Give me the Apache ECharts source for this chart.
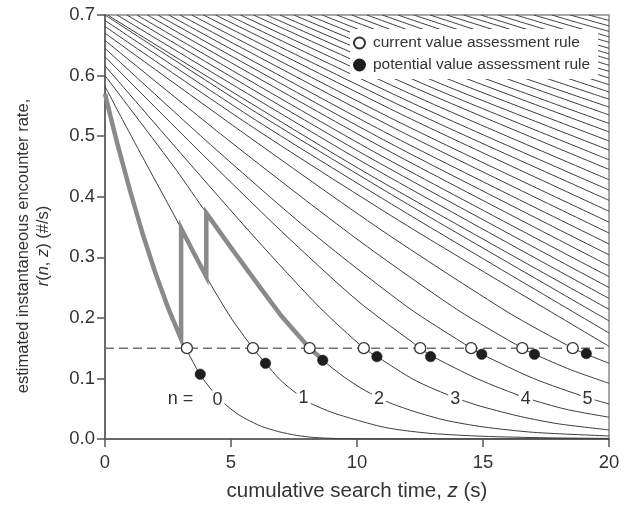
<!DOCTYPE html>
<html><head><meta charset="utf-8">
<script src="https://cdn.jsdelivr.net/npm/echarts@6/dist/echarts.min.js"></script>
<style>html,body{margin:0;padding:0;background:#fff}#c{width:626px;height:508px}</style>
</head><body><div id="c"></div>
<script>
// ---- thin curves r(n,z) that start at the left edge (n = 0 .. 10), [z, r]
const curveN0 = [[0,0.57],[0.5,0.486],[1,0.409],[1.5,0.338],[2,0.274],[2.5,0.217],[3.02,0.165],[3.2,0.15],[3.78,0.106],[4.25,0.08],[4.7,0.06],[5.2,0.043],[5.6,0.033],[6.2,0.021],[6.9,0.012],[7.6,0.006],[8.3,0.0025],[9.2,0.0008],[10.5,0.0002],[20,0]];
const curveN1 = [[0,0.582],[0.85,0.515],[1.77,0.444],[3.02,0.348],[4.02,0.268],[5.0,0.2],[5.87,0.15],[6.37,0.125],[6.92,0.099],[7.45,0.08],[7.88,0.067],[8.2,0.058],[9.0,0.044],[9.6,0.036],[10.9,0.021],[11.7,0.015],[13,0.009],[15,0.0045],[17.5,0.002],[20,0.001]];
const curveN2 = [[0,0.6],[2.83,0.444],[4.02,0.373],[5,0.316],[6,0.259],[7,0.203],[8.12,0.15],[8.64,0.13],[9.5,0.102],[10.2,0.083],[10.87,0.068],[11.4,0.058],[12.3,0.045],[13.5,0.031],[15,0.02],[17,0.011],[20,0.005]];
const curveN3 = [[0,0.616],[3,0.472],[6,0.33],[8.5,0.218],[10.27,0.15],[10.79,0.136],[12.3,0.097],[13.9,0.068],[15,0.053],[16.5,0.037],[18,0.025],[20,0.015]];
const curveN4 = [[0,0.631],[3.5,0.485],[7,0.343],[10,0.229],[12.51,0.15],[12.92,0.138],[14.8,0.099],[16.7,0.068],[18.3,0.049],[20,0.036]];
const curveN5 = [[0,0.645],[4,0.493],[8,0.348],[12,0.218],[14.53,0.15],[14.95,0.14],[17,0.1],[19.15,0.068],[20,0.058]];
const curveN6 = [[0,0.658],[5,0.49],[10,0.33],[14,0.213],[16.56,0.15],[17.04,0.14],[18.5,0.114],[20,0.092]];
const curveN7 = [[0,0.67],[5.5,0.505],[11,0.344],[16,0.209],[18.56,0.15],[19.1,0.14],[20,0.125]];
const curveN8 = [[0,0.681],[6,0.511],[12,0.352],[20,0.153]];
const curveN9 = [[0,0.691],[6,0.526],[12,0.372],[20,0.175]];
const curveN10 = [[0,0.70],[6,0.539],[12,0.388],[20,0.195]];
const leftCurves = [curveN0,curveN1,curveN2,curveN3,curveN4,curveN5,curveN6,curveN7,curveN8,curveN9,curveN10];

// ---- thin curves entering through the top edge (n = 11 ..): top crossing z, a middle point, value at z = 20
const upperTopZ = [0.1,0.48,0.87,1.27,1.68,2.10,2.53,2.98,3.44,3.91,4.39,4.88,5.38,5.89,6.41,6.94,7.49,8.05,8.62,9.20,9.79,10.39,11.0,11.62,12.25,12.9,13.56,14.23,14.91,15.6,16.3,17.01,17.73,18.46,19.2];
const upperMidZ = [10.05,10.24,10.44,10.64,10.84,11.05,11.27,11.49,11.72,11.96,12.2,12.44,12.69,12.95,13.21,13.47,13.75,14.03,14.31,14.6,14.9,15.2,15.5,15.81,16.13,16.45,16.78,17.12,17.46,17.8,18.15,18.5,18.87,19.23,19.6];
const upperMidR = [0.447,0.457,0.466,0.475,0.485,0.494,0.503,0.513,0.522,0.532,0.541,0.550,0.559,0.568,0.576,0.584,0.592,0.600,0.607,0.615,0.621,0.628,0.635,0.641,0.647,0.652,0.658,0.663,0.667,0.672,0.677,0.682,0.686,0.691,0.6955];
const upperEndR = [0.214,0.232,0.250,0.268,0.286,0.304,0.322,0.340,0.358,0.376,0.394,0.411,0.428,0.445,0.461,0.477,0.492,0.507,0.521,0.535,0.548,0.561,0.573,0.585,0.596,0.607,0.617,0.627,0.636,0.645,0.655,0.664,0.673,0.682,0.691];
const topR = 0.7;

// ---- forager's path (thick grey)
const foragerPath = [[0,0.57],[0.25,0.527],[0.5,0.486],[1,0.409],[1.5,0.338],[2,0.274],[2.5,0.217],[3.02,0.165],[3.02,0.348],[3.5,0.309],[4.02,0.268],[4.02,0.373],[5,0.316],[6,0.259],[7,0.203],[8.12,0.15],[8.64,0.131]];

// ---- leaving thresholds
const thresholdR = 0.15;
const currentRuleZ = [3.25,5.87,8.12,10.27,12.51,14.53,16.56,18.56];
const potentialRuleZ = [3.78,6.37,8.64,10.79,12.92,14.95,17.04,19.1];
const potentialRuleR = [0.107,0.125,0.130,0.136,0.136,0.140,0.140,0.141];

// ---- curve labels
const labelZ = [3.0,4.46,7.88,10.87,13.9,16.7,19.15];
const labelR = [0.066,0.065,0.067,0.066,0.066,0.066,0.066];
const labelText = ['n =','0','1','2','3','4','5'];

const FONT = '"Liberation Sans", Arial, Helvetica, sans-serif';
const TXT = '#333';

const series = [];
const thinStyle = {color:'#3c3c3c', width:1};
leftCurves.forEach((c,i)=>{
  series.push({type:'line', name:'n'+i, data:c, symbol:'none', smooth:0.25, lineStyle:thinStyle, silent:true, z:2, clip:true});
});
upperTopZ.forEach((t,i)=>{
  series.push({type:'line', name:'n'+(11+i), data:[[t,topR],[upperMidZ[i],upperMidR[i]],[20,upperEndR[i]]], symbol:'none', smooth:0.25, lineStyle:thinStyle, silent:true, z:2, clip:true});
});
series.push({type:'line', name:'threshold', data:[[0,thresholdR],[20,thresholdR]], symbol:'none', lineStyle:{color:'#707070', width:1.5, type:[9,5]}, silent:true, z:3});
series.push({type:'line', name:'path', data:foragerPath, symbol:'none', lineStyle:{color:'#8a8a8a', width:4.5, join:'miter'}, silent:true, z:4});
series.push({type:'scatter', name:'labels', data:labelZ.map((z,i)=>({value:[z,labelR[i]], name:labelText[i]})), symbolSize:0, itemStyle:{color:'transparent', opacity:1}, silent:true, z:5,
  label:{show:true, position:'inside', formatter:p=>p.name, fontFamily:FONT, fontSize:18, color:TXT, opacity:1, backgroundColor:'#fff', padding:[0,2]},
  emphasis:{disabled:true}});
series.push({type:'scatter', name:'current value assessment rule', data:currentRuleZ.map(z=>[z,thresholdR]), symbol:'circle', symbolSize:11, itemStyle:{color:'#fff', borderColor:'#333', borderWidth:1.3, opacity:1}, z:6});
series.push({type:'scatter', name:'potential value assessment rule', data:potentialRuleZ.map((z,i)=>[z,potentialRuleR[i]]), symbol:'circle', symbolSize:10.5, itemStyle:{color:'#1e1e1e', borderColor:'#1e1e1e', borderWidth:0.5, opacity:1}, z:6});

const axisLineStyle = {color:'#555', width:1.5};
const option = {
  animation:false,
  backgroundColor:'#fff',
  textStyle:{fontFamily:FONT},
  grid:{left:105, right:17, top:15, bottom:69, show:true, borderColor:'#8a8a8a', borderWidth:1.5, backgroundColor:'transparent'},
  legend:{data:['current value assessment rule','potential value assessment rule'], orient:'vertical', left:350, top:29, z:10,
    backgroundColor:'#fff', padding:[6,8,6,3], itemWidth:11, itemHeight:11, itemGap:6,
    textStyle:{fontFamily:FONT, fontSize:15.5, color:TXT, padding:[0,0,0,3]}},
  xAxis:{type:'value', min:0, max:20, interval:5,
    axisLine:{lineStyle:axisLineStyle}, axisTick:{length:8, lineStyle:axisLineStyle},
    axisLabel:{fontSize:18.5, color:TXT, margin:14, fontFamily:FONT}, splitLine:{show:false},
    name:'cumulative search time, {i|z} (s)', nameLocation:'middle', nameGap:42,
    nameTextStyle:{fontSize:20.5, color:TXT, fontFamily:FONT, rich:{i:{fontStyle:'italic', fontSize:20.5, color:TXT, fontFamily:FONT}}}},
  yAxis:{type:'value', min:0, max:0.7, interval:0.1,
    axisLine:{lineStyle:axisLineStyle}, axisTick:{length:8, lineStyle:axisLineStyle},
    axisLabel:{fontSize:18.5, color:TXT, margin:10, fontFamily:FONT, formatter:v=>v.toFixed(1)}, splitLine:{show:false},
    name:'estimated instantaneous encounter rate,\n{i|r}({i|n}, {i|z}) (#/s)', nameLocation:'middle', nameRotate:90, nameGap:52,
    nameTextStyle:{fontSize:16.5, lineHeight:20, color:TXT, fontFamily:FONT, padding:[0,38,0,0], rich:{i:{fontStyle:'italic', fontSize:16.5, lineHeight:20, color:TXT, fontFamily:FONT}}}},
  series:series
};
const chart = echarts.init(document.getElementById('c'), null, {renderer:'canvas'});
chart.setOption(option);
</script></body></html>
